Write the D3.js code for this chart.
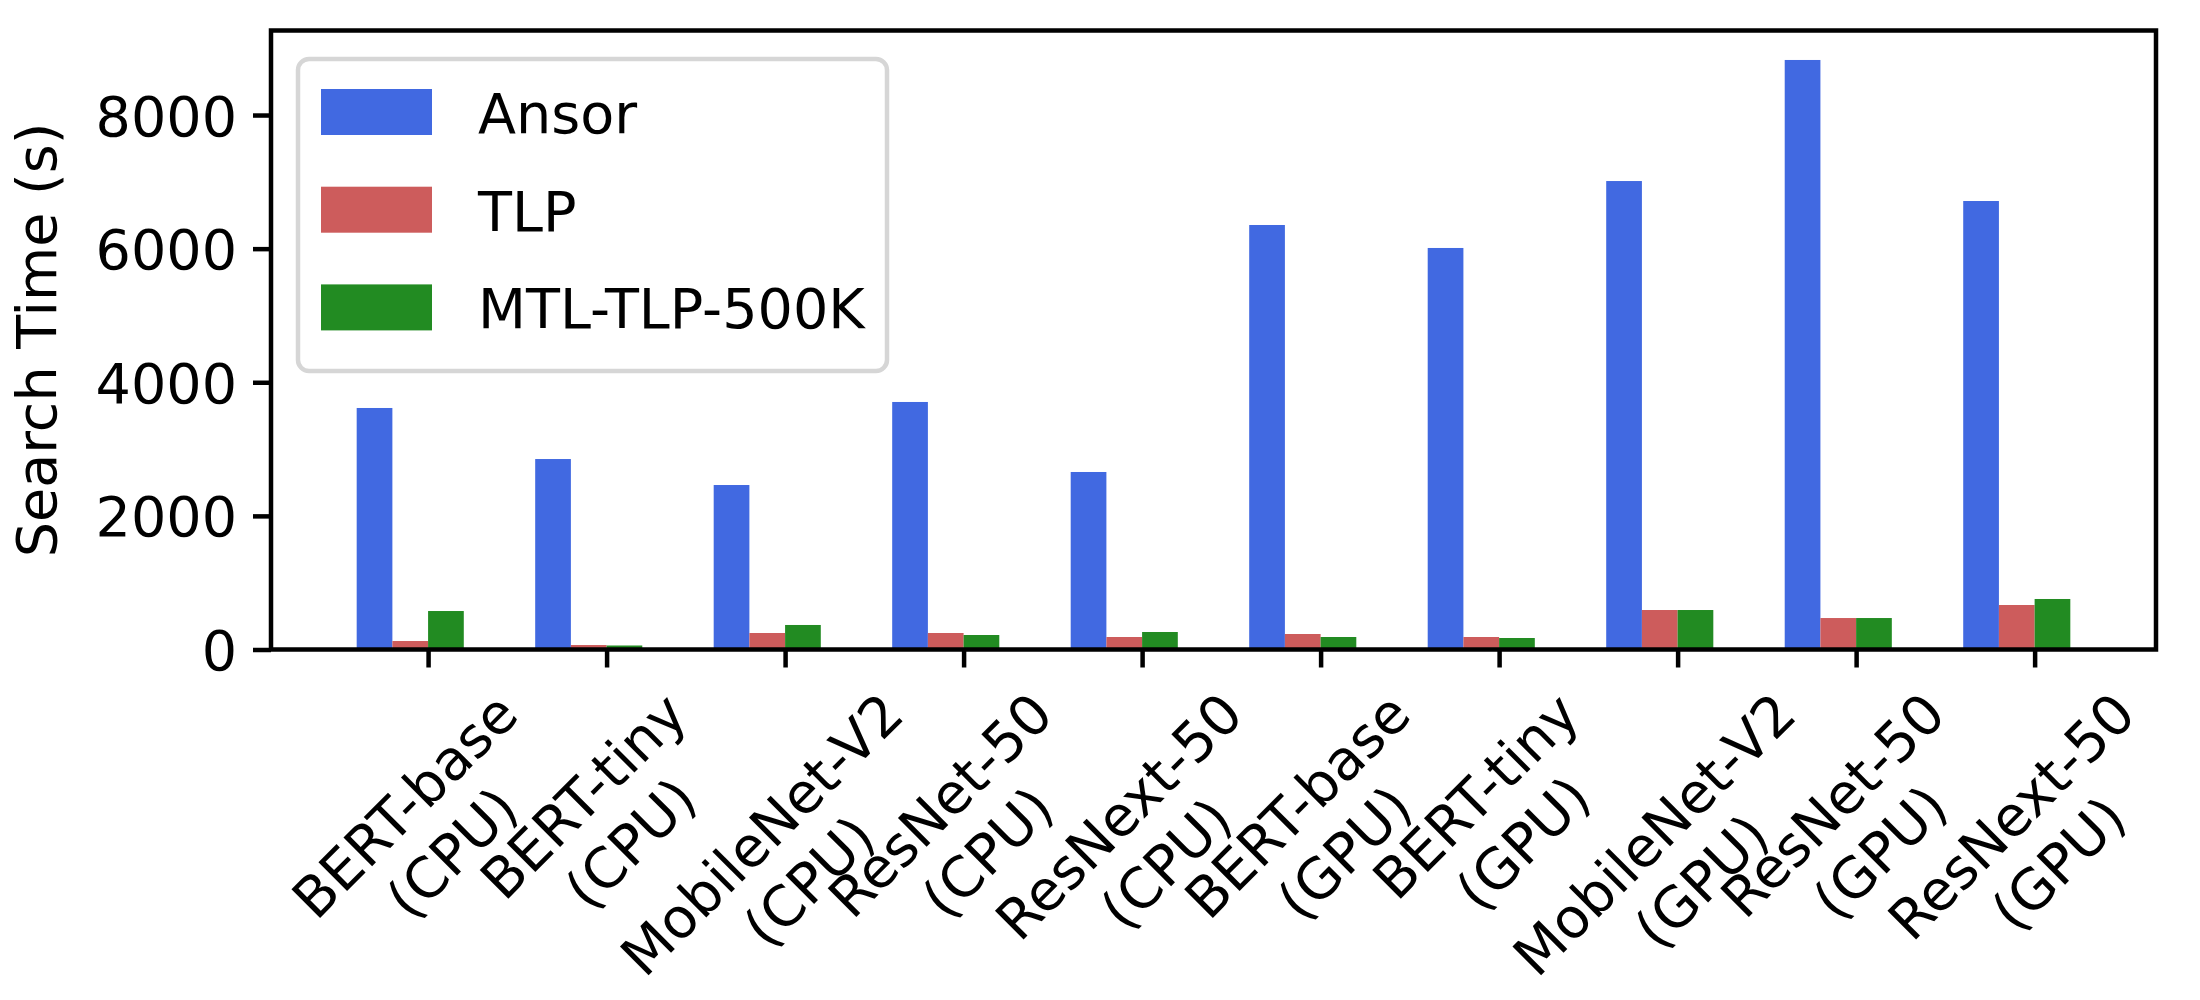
<!DOCTYPE html>
<html>
<head>
<meta charset="utf-8">
<script src="https://cdn.jsdelivr.net/npm/d3@7"></script>
<style>
  body { margin: 0; background: #fff; }
  text { font-family: 'DejaVu Sans', sans-serif; }
</style>
</head>
<body>
<div id="chart"></div>
<script>
'use strict';

var w = 2200;
var h = 1000;

// categories (model, device)
var models = [ 'BERT-base', 'BERT-tiny', 'MobileNet-V2', 'ResNet-50', 'ResNext-50',
	'BERT-base', 'BERT-tiny', 'MobileNet-V2', 'ResNet-50', 'ResNext-50' ];
var devices = [ '(CPU)', '(CPU)', '(CPU)', '(CPU)', '(CPU)',
	'(GPU)', '(GPU)', '(GPU)', '(GPU)', '(GPU)' ];

// search time in seconds
var ansor = [ 3615, 2851, 2462, 3705, 2657, 6354, 6010, 7012, 8824, 6713 ];
var tlp = [ 127, 67, 247, 247, 187, 232, 187, 591, 471, 666 ];
var mtl = [ 576, 60, 367, 217, 262, 187, 172, 591, 471, 756 ];

var seriesNames = [ 'Ansor', 'TLP', 'MTL-TLP-500K' ];
var seriesColors = [ '#4169e1', '#cd5c5c', '#228b22' ];
var yTicks = [ 0, 2000, 4000, 6000, 8000 ];

var fontSize = 55.6;
var plotL = 271, plotR = 2156, plotT = 30.5, plotB = 649.5;
var barW = 0.2;

var x = d3.scaleLinear()
	.domain([ -2 * barW - 0.48, models.length - 1 + barW + 0.48 ])
	.range([ plotL, plotR ]);

var y = d3.scaleLinear()
	.domain([ 0, d3.max(ansor) * 1.05 ])
	.range([ plotB, plotT ]);

var svg = d3.select('#chart')
	.append('svg')
	.attr('width', w)
	.attr('height', h);

svg.append('rect')
	.attr('width', w)
	.attr('height', h)
	.attr('fill', '#fff');

var series = [ ansor, tlp, mtl ];

series.forEach(function(vals, s) {
	svg.append('g')
		.selectAll('rect')
		.data(vals)
		.enter()
		.append('rect')
		.attr('x', function(d, i) { return x(i + (s - 2) * barW); })
		.attr('width', function(d, i) { return x(i + (s - 1) * barW) - x(i + (s - 2) * barW); })
		.attr('y', function(d) { return y(d); })
		.attr('height', function(d) { return y(0) - y(d); })
		.attr('fill', seriesColors[s]);
});

// y axis
var yAxis = svg.append('g')
	.attr('transform', 'translate(' + plotL + ',0)')
	.call(d3.axisLeft(y).tickValues(yTicks).tickSize(18).tickPadding(16).tickFormat(d3.format('d')));
yAxis.select('.domain').remove();
yAxis.selectAll('line').attr('stroke', '#000').attr('stroke-width', 4.5);
yAxis.selectAll('text')
	.attr('font-size', fontSize)
	.attr('fill', '#000')
	.attr('dy', '0.36em');

// x axis ticks
var xAxis = svg.append('g')
	.attr('transform', 'translate(0,' + plotB + ')')
	.call(d3.axisBottom(x).tickValues(d3.range(models.length)).tickSize(18).tickFormat(''));
xAxis.select('.domain').remove();
xAxis.selectAll('line').attr('stroke', '#000').attr('stroke-width', 4.5);

// rotated two-line tick labels
var lh = fontSize * 1.2;
var labelTop = plotB + 18 + 12;
models.forEach(function(m, i) {
	var t = svg.append('text')
		.attr('font-size', fontSize)
		.attr('text-anchor', 'middle')
		.attr('fill', '#000');
	var l1 = t.append('tspan').attr('x', 0).attr('y', -lh / 2 + 20).text(m);
	var l2 = t.append('tspan').attr('x', 0).attr('y', lh / 2 + 20).text(devices[i]);
	var wMax = Math.max(l1.node().getComputedTextLength(), l2.node().getComputedTextLength());
	var cy = labelTop + (wMax + 2 * lh) / (2 * Math.SQRT2);
	t.attr('transform', 'translate(' + x(i) + ',' + cy + ') rotate(-45)');
});

// frame
svg.append('rect')
	.attr('x', plotL)
	.attr('y', plotT)
	.attr('width', plotR - plotL)
	.attr('height', plotB - plotT)
	.attr('fill', 'none')
	.attr('stroke', '#000')
	.attr('stroke-width', 4.5);

// y label
svg.append('text')
	.attr('transform', 'translate(56,' + (plotT + plotB) / 2 + ') rotate(-90)')
	.attr('text-anchor', 'middle')
	.attr('font-size', fontSize)
	.attr('fill', '#000')
	.text('Search Time (s)');

// legend
var legend = svg.append('g');
legend.append('rect')
	.attr('x', 298)
	.attr('y', 59)
	.attr('width', 589)
	.attr('height', 312)
	.attr('rx', 11)
	.attr('fill', '#fff')
	.attr('fill-opacity', 0.8)
	.attr('stroke', '#d6d6d6')
	.attr('stroke-width', 4.5);

var rows = legend.selectAll('g.row')
	.data(seriesNames)
	.enter()
	.append('g')
	.attr('class', 'row')
	.attr('transform', function(d, i) { return 'translate(321,' + (112 + i * 97.7) + ')'; });

rows.append('rect')
	.attr('x', 0)
	.attr('y', -23)
	.attr('width', 111)
	.attr('height', 46)
	.attr('fill', function(d, i) { return seriesColors[i]; });

rows.append('text')
	.attr('x', 157)
	.attr('y', 21)
	.attr('font-size', fontSize)
	.attr('fill', '#000')
	.text(function(d) { return d; });
</script>
</body>
</html>
